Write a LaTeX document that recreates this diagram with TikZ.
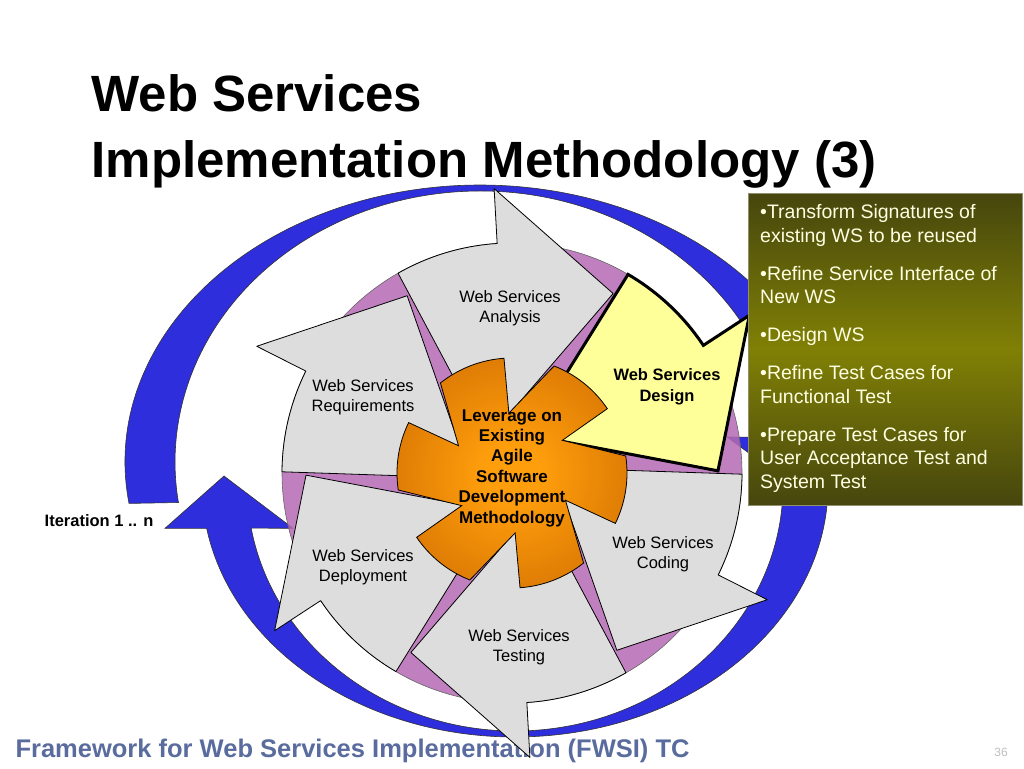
\documentclass[tikz,border=0pt]{standalone}
\usepackage{fontspec}
\setmainfont{Liberation Sans}
\usetikzlibrary{positioning,calc}
\definecolor{ringblue}{RGB}{46,46,220}
\definecolor{discpurple}{RGB}{181,106,181}
\definecolor{wsgray}{RGB}{221,221,221}
\definecolor{wsyellow}{RGB}{255,255,153}
\definecolor{staron}{RGB}{255,158,12}
\definecolor{staroff}{RGB}{198,98,0}
\definecolor{olivedark}{RGB}{70,70,14}
\definecolor{olivemid}{RGB}{128,128,6}
\definecolor{boxtext}{RGB}{255,255,225}
\definecolor{footblue}{RGB}{90,108,158}
\pgfdeclareradialshading{starglow}{\pgfpointorigin}{color(0bp)=(staron); color(6bp)=(staron); color(40bp)=(staroff); color(50bp)=(staroff)}
\tikzstyle{ring}=[draw=black!80, fill=ringblue, line width=0.6pt]
\tikzstyle{ws}=[draw, fill=wsgray, line width=0.8pt, line join=round]
\tikzstyle{wsdesign}=[draw, fill=wsyellow, line width=3pt, line join=miter]
\tikzstyle{lbl}=[align=center, font=\fontsize{16.5}{20.5}\selectfont]
\newcommand{\wsarrow}[1]{\draw[#1] (127.1:41.4) -- (119.7:230) arc[start angle=119.7, end angle=93.7, radius=230] -- (93.6:285) -- (60.6:206) -- cycle;}

\begin{document}
\begin{tikzpicture}[x=1pt, y=1pt]
\useasboundingbox (0,0) rectangle (1024,768);
\fill[white] (0,0) rectangle (1024,768);
\coordinate (C) at (512,295);
\coordinate (up) at (480,306);
\coordinate (low) at (515,283);

\node[font=\fontsize{51}{0}\selectfont\bfseries, anchor=base west] (title1) at (88,656) {Web Services};
\node[font=\fontsize{51}{0}\selectfont\bfseries, anchor=base west] (title2) at ([yshift=-66pt]title1.base west) {Implementation Methodology (3)};
\node[font=\fontsize{25.5}{0}\selectfont\bfseries, text=footblue, anchor=base west] (footer) at (12,11) {Framework for Web Services Implementation (FWSI) TC};
\node[font=\fontsize{12}{0}\selectfont, text=black!25, anchor=base] (page) at (1001,12) {36};

% iteration arrows
\draw[ring] ($(up)+(188.6:355 and 277)$) arc[start angle=188.6, end angle=5.2, x radius=355, y radius=277] -- (876,331) -- (802,276) -- (727,331) -- ($(up)+(5.2:305 and 271)$) arc[start angle=5.2, end angle=188.6, x radius=305, y radius=271] -- cycle;
\draw[ring] ($(low)+(3.4:313 and 252)$) arc[start angle=3.4, end angle=-170.1, x radius=313, y radius=252] -- (165,239.7) -- (224,292) -- (293,239.7) -- ($(low)+(-169.9:268 and 246)$) arc[start angle=-169.9, end angle=3.4, x radius=268, y radius=246] -- cycle;

\filldraw[fill=discpurple, fill opacity=0.85, draw=black!60, line width=0.6pt] (C) circle[radius=230];

% phases
\foreach \i in {0,2,3,4,5} {\wsarrow{ws, shift={(C)}, rotate=-60*\i}}
\wsarrow{wsdesign, shift={(C)}, rotate=-60}

\shadedraw[shading=starglow, draw=black, line width=0.8pt, shift={(C)}] (153:60) \foreach \k in {0,...,5}{ -- (128.5-60*\k:115) arc[start angle=128.5-60*\k, end angle=94-60*\k, radius=115] -- (93-60*\k:60)} -- cycle;

\node[lbl] (analysis) at (510,460) {Web Services\\Analysis};
\node[lbl, font=\fontsize{16.5}{20.5}\selectfont\bfseries] (design) at (667,381) {Web Services\\Design};
\node[lbl] (coding) at (663,214) {Web Services\\Coding};
\node[lbl] (testing) at (519,121) {Web Services\\Testing};
\node[lbl] (deployment) at (363,201) {Web Services\\Deployment};
\node[lbl] (requirements) at (363,371) {Web Services\\Requirements};
\node[align=center, font=\fontsize{17}{20.4}\selectfont\bfseries] (core) at (512,300) {Leverage on\\Existing\\Agile\\Software\\Development\\Methodology};

\node[font=\fontsize{16.5}{0}\selectfont\bfseries, anchor=base east] (iter) at (157,241) {Iteration 1 .. n};

\node[anchor=north west, minimum width=274pt, minimum height=312pt, inner sep=0pt, top color=olivedark, bottom color=olivedark, middle color=olivemid, draw=olivedark!60!white] (tasks) at (748,575) {};
\node[anchor=north west, align=left, text=boxtext, inner sep=0pt, font=\fontsize{19.5}{23.5}\selectfont] (tasklist) at (760,563.5) {•Transform Signatures of\\existing WS to be reused\\[14.5pt]•Refine Service Interface of\\New WS\\[14.5pt]•Design WS\\[14.5pt]•Refine Test Cases for\\Functional Test\\[14.5pt]•Prepare Test Cases for\\User Acceptance Test and\\System Test};

\end{tikzpicture}
\end{document}
